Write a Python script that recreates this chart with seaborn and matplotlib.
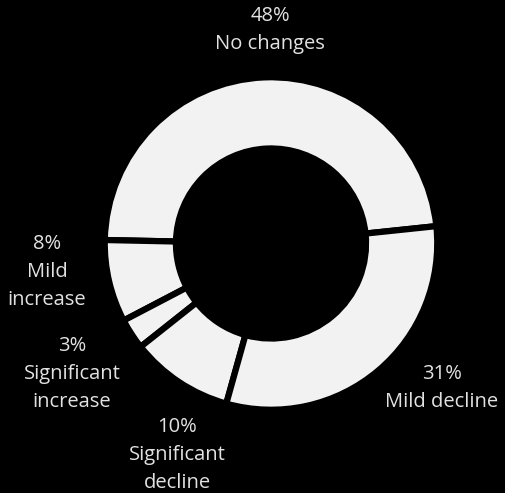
import matplotlib
matplotlib.use("Agg")
import matplotlib.pyplot as plt
import seaborn as sns

# Share of responses per category
categories = ["No changes", "Mild increase", "Significant increase",
              "Significant decline", "Mild decline"]
label_names = ["No changes", "Mild\nincrease", "Significant\nincrease",
               "Significant\ndecline", "Mild decline"]
shares = [48, 8, 3, 10, 31]

sns.set_theme(style="dark", rc={"figure.facecolor": "black",
                                "axes.facecolor": "black"})
plt.rcParams["font.family"] = ["Open Sans", "DejaVu Sans"]

W, H = 505, 493
fig = plt.figure(figsize=(W / 100, H / 100), dpi=100)
ax = fig.add_axes([0, 0, 1, 1])
ax.set_facecolor("black")

ax.pie(shares, startangle=6, counterclock=True, radius=1.02,
       colors=["#f2f2f2"] * len(shares),
       wedgeprops=dict(width=0.437, edgecolor="black", linewidth=4.5))

# pixel scale: ring of radius 1 spans 163 px, centred at (271, 243.5)
scale, cx, cy = 163.0, 271.0, 243.5
ax.set_xlim(-cx / scale, (W - cx) / scale)
ax.set_ylim(-(H - cy) / scale, cy / scale)
ax.set_aspect("equal")
ax.axis("off")

# label anchor points (pixel coordinates of each label block centre)
anchors = [(270, 30), (47, 272), (72, 374), (177, 455), (442, 388)]
for name, val, (px, py) in zip(label_names, shares, anchors):
    ax.text((px - cx) / scale, (cy - py) / scale, f"{val}%\n{name}",
            ha="center", va="center", multialignment="center",
            color="#e2e2e2", fontsize=14.5, fontweight="normal",
            linespacing=1.52)

fig.savefig("out.png", dpi=100, facecolor="black")
